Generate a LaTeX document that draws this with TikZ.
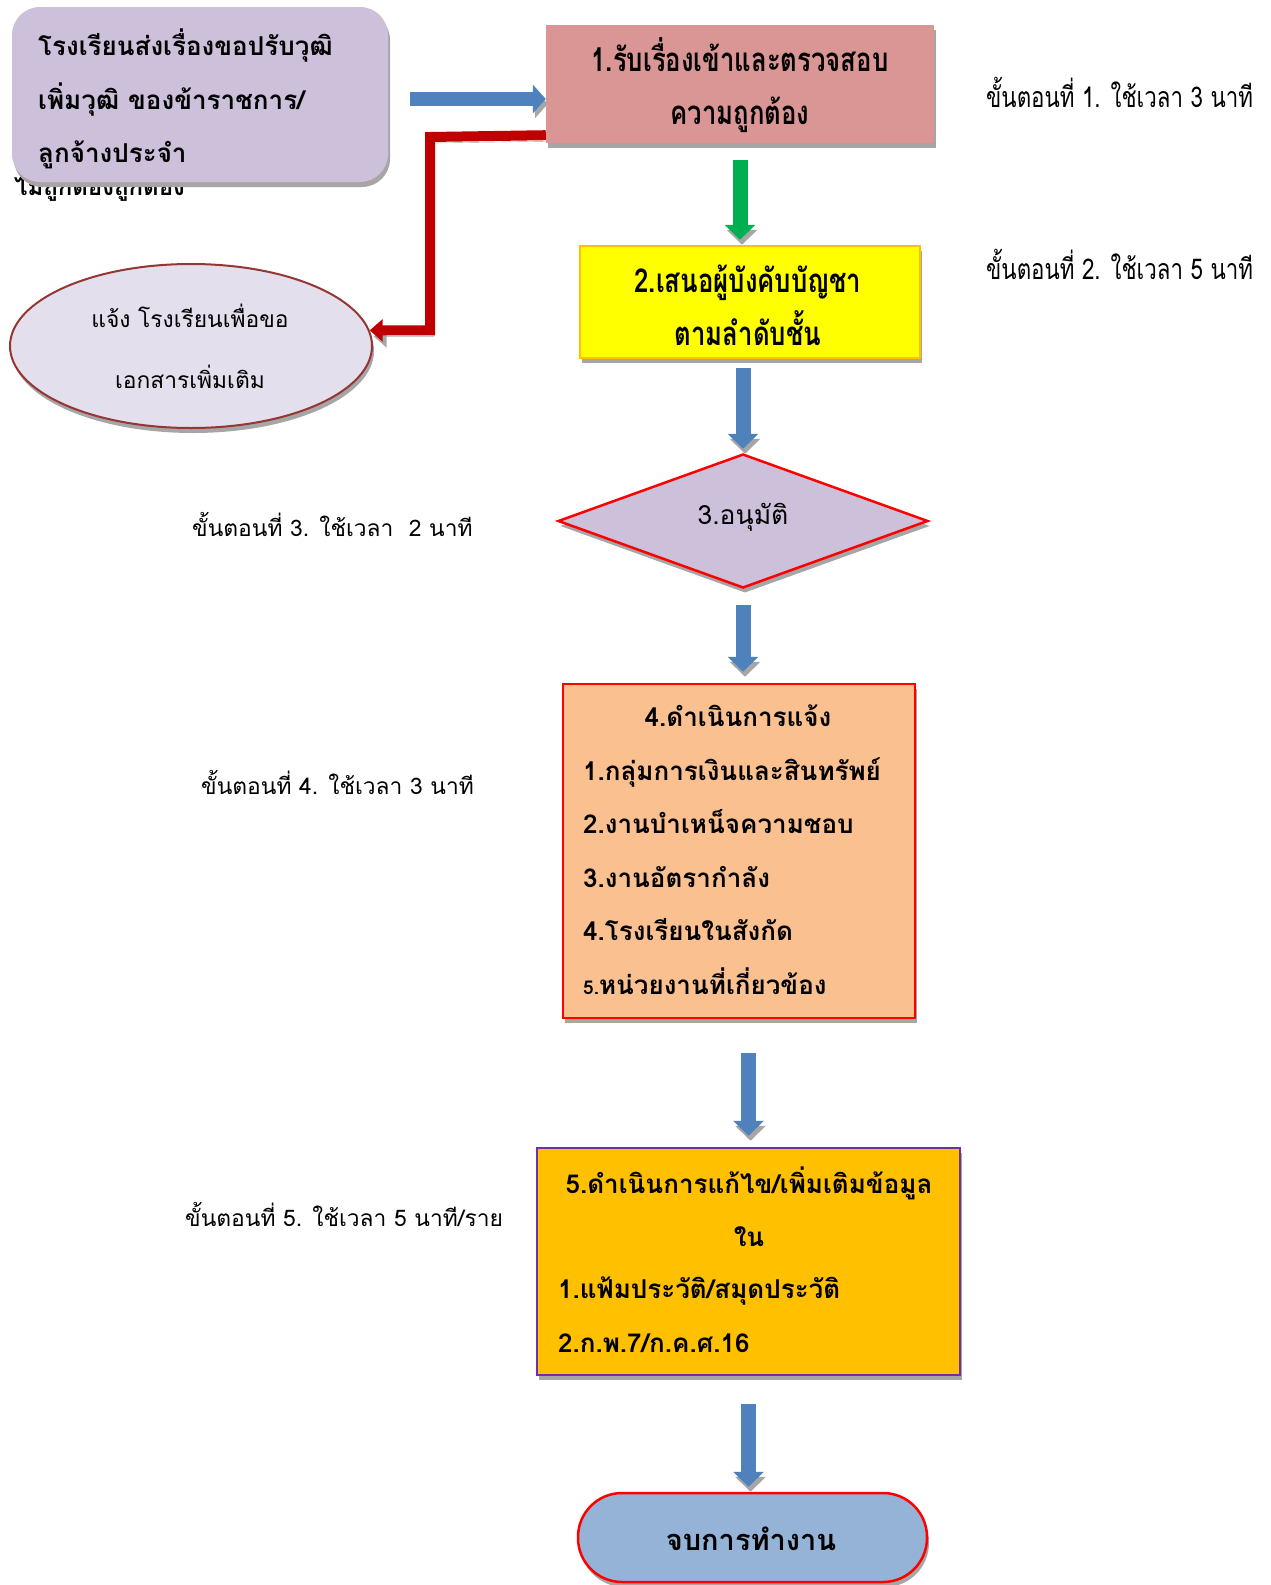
\documentclass[tikz,border=0pt]{standalone}
\usepackage{fontspec}
\usetikzlibrary{arrows.meta,shadows,shapes.geometric,calc}
\newfontfamily\thai[Script=Thai]{Loma}
\newfontfamily\thaicond[Script=Thai,FakeStretch=0.78]{Loma}
\definecolor{lav}{HTML}{CCC0DA}
\definecolor{rosebox}{HTML}{D99694}
\definecolor{yel}{HTML}{FFFF00}
\definecolor{orng}{HTML}{FFC000}
\definecolor{ellfill}{HTML}{E4DFEC}
\definecolor{elldraw}{HTML}{943634}
\definecolor{peach}{HTML}{FAC090}
\definecolor{purp}{HTML}{7030A0}
\definecolor{endblue}{HTML}{95B3D7}
\definecolor{arrblue}{HTML}{4F81BD}
\definecolor{arrgreen}{HTML}{00B050}
\definecolor{arrred}{HTML}{C00000}
\definecolor{shad}{HTML}{A6A6A6}
\begin{document}
\begin{tikzpicture}[x=1pt,y=-1pt,
  boxshadow/.style={general shadow={fill=shad, shadow xshift=2pt, shadow yshift=-5pt}},
  plainbox/.style={rectangle, inner sep=0pt, boxshadow},
  bfont/.style={font=\thai\bfseries\fontsize{26}{53.5}\selectfont},
  cfont/.style={font=\thaicond\bfseries\fontsize{33}{53}\selectfont},
  lblfont/.style={font=\thai\fontsize{22.8}{26}\selectfont},
  rlblfont/.style={font=\thaicond\fontsize{28.6}{32}\selectfont},
  vblock/.style={line width=15pt, -{Triangle[length=15pt,width=30pt]},
     preaction={draw=shad, transform canvas={shift={(2pt,-5pt)}}}},
  blockblue/.style={vblock, draw=arrblue},
  blockgreen/.style={vblock, draw=arrgreen},
  hblock/.style={draw=arrblue, line width=14pt, -{Triangle[length=13pt,width=28pt]},
     preaction={draw=shad, transform canvas={shift={(2pt,-5pt)}}}},
  redconn/.style={draw=arrred, line width=10pt, line join=miter, -{Triangle[length=13pt,width=22pt]},
     preaction={draw=shad, transform canvas={shift={(4pt,-6pt)}}}}
]
\useasboundingbox (0,0) rectangle (1271,1585);

% hidden label behind source box
\node[anchor=base west, font=\thai\bfseries\fontsize{24}{28}\selectfont, inner sep=0pt] (hid) at (14,195) {ไม่ถูกต้องถูกต้อง};

% source box
\node[plainbox, fill=lav, rounded corners=28pt, minimum width=376pt, minimum height=175pt] (src) at (200,94.5) {};
\node[bfont, anchor=west, align=left, inner sep=0pt] (srct) at (38,99) {โรงเรียนส่งเรื่องขอปรับวุฒิ\\เพิ่มวุฒิ ของข้าราชการ/\\ลูกจ้างประจำ};

% step 1
\node[plainbox, fill=rosebox, minimum width=388pt, minimum height=118pt] (b1) at (740,84) {};
\node[cfont, align=center, inner sep=0pt] (b1t) at (740,85.5) {1.รับเรื่องเข้าและตรวจสอบ\\ความถูกต้อง};

% step 2
\node[plainbox, fill=yel, draw=orng, line width=2.5pt, minimum width=340pt, minimum height=112pt] (b2) at (750,302) {};
\node[cfont, align=center, inner sep=0pt] (b2t) at (748,305) {2.เสนอผู้บังคับบัญชา\\ตามลำดับชั้น};

% ellipse
\node[ellipse, fill=ellfill, draw=elldraw, line width=2pt, minimum width=362pt, minimum height=164pt, inner sep=0pt, boxshadow] (ell) at (191,346) {};
\node[font=\thai\fontsize{22.8}{61}\selectfont, align=center, inner sep=0pt] (ellt) at (190,346.5) {แจ้ง โรงเรียนเพื่อขอ\\เอกสารเพิ่มเติม};

% diamond
\node[diamond, fill=lav, draw=red, line width=2.5pt, minimum width=370pt, minimum height=134pt, inner sep=0pt, boxshadow] (dia) at (743,521) {};
\node[font=\thai\fontsize{26.5}{30}\selectfont, inner sep=0pt] (diat) at (743,517) {3.อนุมัติ};

% step 4
\node[plainbox, fill=peach, draw=red, line width=2.5pt, minimum width=352pt, minimum height=334pt] (b4) at (739,851) {};
\node[bfont, inner sep=0pt] (b4a) at (738,716) {4.ดำเนินการแจ้ง};
\node[bfont, anchor=west, align=left, inner sep=0pt] (b4b) at (583,876) {1.กลุ่มการเงินและสินทรัพย์\\2.งานบำเหน็จความชอบ\\3.งานอัตรากำลัง\\4.โรงเรียนในสังกัด\\{\fontsize{19}{53.5}\selectfont 5.}หน่วยงานที่เกี่ยวข้อง};

% step 5
\node[plainbox, fill=orng, draw=purp, line width=2.5pt, minimum width=423pt, minimum height=227pt] (b5) at (748.5,1261.5) {};
\node[bfont, align=center, inner sep=0pt] (b5a) at (749,1206.5) {5.ดำเนินการแก้ไข/เพิ่มเติมข้อมูล\\ใน};
\node[bfont, anchor=west, align=left, inner sep=0pt] (b5b) at (558,1314.5) {1.แฟ้มประวัติ/สมุดประวัติ\\2.ก.พ.7/ก.ค.ศ.16};

% end
\node[plainbox, fill=endblue, draw=red, line width=2.5pt, rounded corners=44pt, minimum width=349pt, minimum height=89pt] (fin) at (752.5,1537.5) {};
\node[font=\thai\bfseries\fontsize{29}{32}\selectfont, inner sep=0pt] (fint) at (751,1539) {จบการทำงาน};

% side labels
\node[rlblfont, anchor=west, inner sep=0pt] (l1) at (986,92) {ขั้นตอนที่ 1. ใช้เวลา 3 นาที};
\node[rlblfont, anchor=west, inner sep=0pt] (l2) at (986,264) {ขั้นตอนที่ 2. ใช้เวลา 5 นาที};
\node[lblfont, anchor=west, inner sep=0pt] (l3) at (192,524) {ขั้นตอนที่ 3. ใช้เวลา\ \ 2 นาที};
\node[lblfont, anchor=west, inner sep=0pt] (l4) at (201,782) {ขั้นตอนที่ 4. ใช้เวลา 3 นาที};
\node[lblfont, anchor=west, inner sep=0pt] (l5) at (185,1214) {ขั้นตอนที่ 5. ใช้เวลา 5 นาที/ราย};

% connectors
\draw[hblock, shorten <=22pt] ([yshift=-4.5pt]src.east) -- ([yshift=-4.5pt]src.east -| b1.west);
\coordinate (bend) at (430,137);
\draw[redconn] ([yshift=8pt]b1.south west) -- (bend) |- (ell.5);
\draw[blockgreen, shorten <=17pt, shorten >=5pt] (b1.south) -- (b1.south |- b2.north);
\draw[blockblue, shorten <=9pt, shorten >=4pt] (b2.south -| dia.north) -- (dia.north);
\draw[blockblue, shorten <=16pt, shorten >=11pt] (dia.south) -- (dia.south |- b4.north);
\draw[blockblue, shorten <=34pt, shorten >=11pt] (b4.south -| b5.north) -- (b5.north);
\draw[blockblue, shorten <=28pt, shorten >=5pt] (b5.south) -- (b5.south |- fin.north);
\end{tikzpicture}
\end{document}
